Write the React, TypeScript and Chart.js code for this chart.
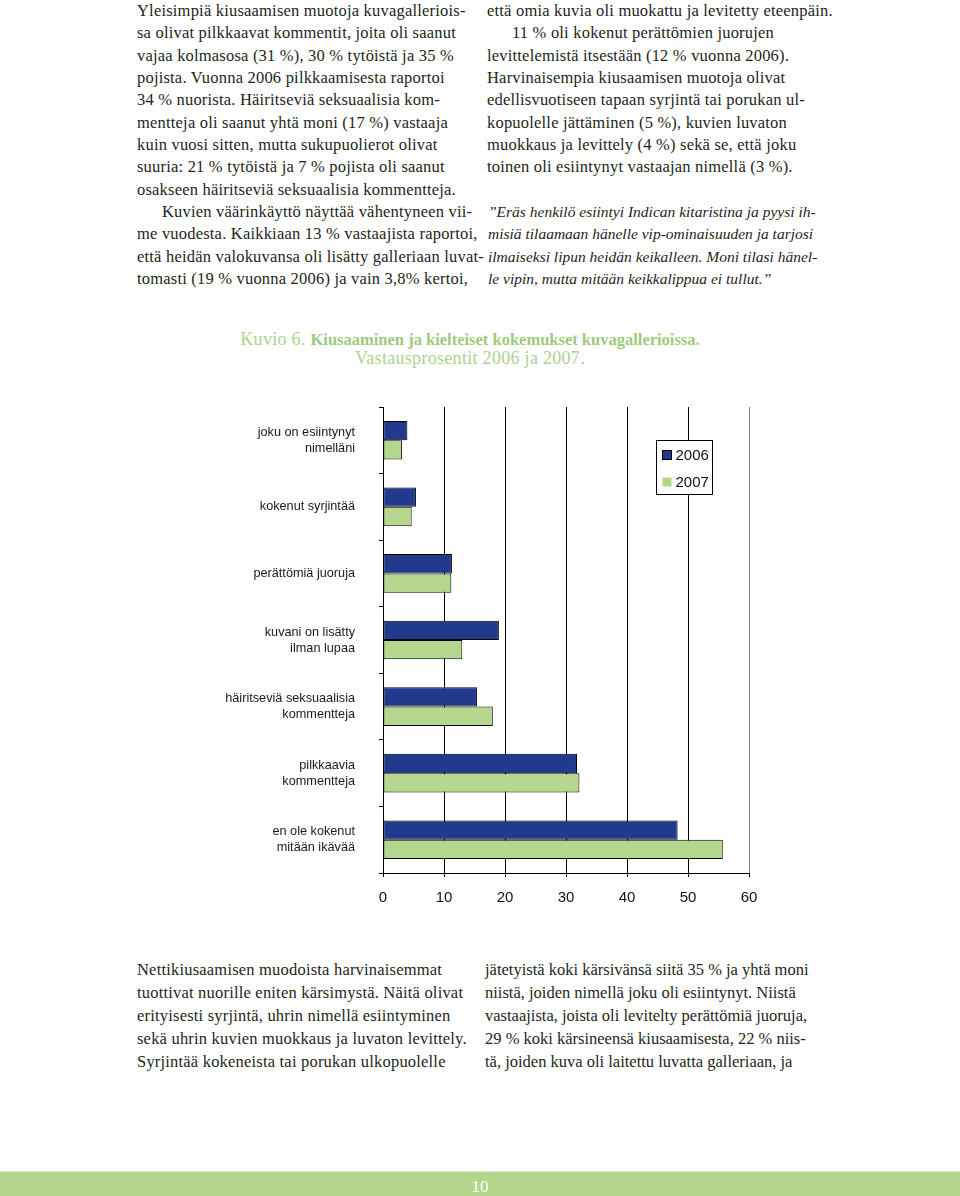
import React, { useEffect, useRef } from "react";
import { Chart, registerables } from "chart.js";

Chart.register(...registerables);

if (typeof document !== "undefined") {
  document.body.style.margin = "0";
}

// ---- data ----
const categories: string[][] = [
  ["joku on esiintynyt", "nimelläni"],
  ["kokenut syrjintää"],
  ["perättömiä juoruja"],
  ["kuvani on lisätty", "ilman lupaa"],
  ["häiritseviä seksuaalisia", "kommentteja"],
  ["pilkkaavia", "kommentteja"],
  ["en ole kokenut", "mitään ikävää"],
];
const seriesLabels = ["2006", "2007"];
const values2006 = [4.0, 5.4, 11.3, 19.0, 15.4, 31.8, 48.3];
const values2007 = [3.1, 4.7, 11.2, 13.0, 18.0, 32.2, 55.7];
const axisMin = 0;
const axisMax = 60;
const axisStep = 10;

const leftTop = [
  "Yleisimpiä kiusaamisen muotoja kuvagalleriois-",
  "sa olivat pilkkaavat kommentit, joita oli saanut",
  "vajaa kolmasosa (31 %), 30 % tytöistä ja 35 %",
  "pojista. Vuonna 2006 pilkkaamisesta raportoi",
  "34 % nuorista. Häiritseviä seksuaalisia kom-",
  "mentteja oli saanut yhtä moni (17 %) vastaaja",
  "kuin vuosi sitten, mutta sukupuolierot olivat",
  "suuria: 21 % tytöistä ja 7 % pojista oli saanut",
  "osakseen häiritseviä seksuaalisia kommentteja.",
  "\u00a0Kuvien väärinkäyttö näyttää vähentyneen vii-",
  "me vuodesta. Kaikkiaan 13 % vastaajista raportoi,",
  "että heidän valokuvansa oli lisätty galleriaan luvat-",
  "tomasti (19 % vuonna 2006) ja vain 3,8% kertoi,",
];
const rightTop = [
  "että omia kuvia oli muokattu ja levitetty eteenpäin.",
  "\u00a011 % oli kokenut perättömien juorujen",
  "levittelemistä itsestään (12 % vuonna 2006).",
  "Harvinaisempia kiusaamisen muotoja olivat",
  "edellisvuotiseen tapaan syrjintä tai porukan ul-",
  "kopuolelle jättäminen (5 %), kuvien luvaton",
  "muokkaus ja levittely (4 %) sekä se, että joku",
  "toinen oli esiintynyt vastaajan nimellä (3 %).",
];
const quoteLines = [
  "”Eräs henkilö esiintyi Indican kitaristina ja pyysi ih-",
  "misiä tilaamaan hänelle vip-ominaisuuden ja tarjosi",
  "ilmaiseksi lipun heidän keikalleen. Moni tilasi hänel-",
  "le vipin, mutta mitään keikkalippua ei tullut.”",
];
const leftBottom = [
  "Nettikiusaamisen muodoista harvinaisemmat",
  "tuottivat nuorille eniten kärsimystä. Näitä olivat",
  "erityisesti syrjintä, uhrin nimellä esiintyminen",
  "sekä uhrin kuvien muokkaus ja luvaton levittely.",
  "Syrjintää kokeneista tai porukan ulkopuolelle",
];
const rightBottom = [
  "jätetyistä koki kärsivänsä siitä 35 % ja yhtä moni",
  "niistä, joiden nimellä joku oli esiintynyt. Niistä",
  "vastaajista, joista oli levitelty perättömiä juoruja,",
  "29 % koki kärsineensä kiusaamisesta, 22 % niis-",
  "tä, joiden kuva oli laitettu luvatta galleriaan, ja",
];

const NAVY = "#223a8e";
const GREEN = "#b4d78d";
const TEXT = "#231f20";
const SERIF = "'Liberation Serif', 'DejaVu Serif', serif";
const SANS = "'Liberation Sans', Arial, sans-serif";

const boxLegend = {
  id: "boxLegend",
  afterDraw(chart: any) {
    const { ctx, chartArea } = chart;
    const x = Math.round(chartArea.left + 273) + 0.5;
    const y = Math.round(chartArea.top + 33) + 0.5;
    const w = 56;
    const h = 54;
    ctx.save();
    ctx.fillStyle = "#ffffff";
    ctx.fillRect(x, y, w, h);
    ctx.strokeStyle = "#000000";
    ctx.lineWidth = 1;
    ctx.strokeRect(x, y, w, h);
    ctx.font = `15px ${SANS}`;
    ctx.textBaseline = "middle";
    chart.data.datasets.forEach((ds: any, i: number) => {
      const cy = y + 14.5 + i * 27;
      ctx.fillStyle = ds.backgroundColor;
      ctx.fillRect(x + 6, cy - 4.5, 9, 9);
      if (i === 0) {
        ctx.strokeStyle = "#000";
        ctx.strokeRect(x + 6, cy - 4.5, 9, 9);
      }
      ctx.fillStyle = "#111";
      ctx.fillText(ds.label, x + 19, cy + 0.5);
    });
    ctx.restore();
  },
};

function BarChart() {
  const ref = useRef<HTMLCanvasElement | null>(null);
  useEffect(() => {
    if (!ref.current) return;
    const chart = new Chart(ref.current, {
      type: "bar",
      data: {
        labels: categories,
        datasets: [
          {
            label: seriesLabels[0],
            data: values2006,
            backgroundColor: NAVY,
            borderColor: "#000",
            borderWidth: 1,
            borderSkipped: false,
            categoryPercentage: 0.58,
            barPercentage: 1.0,
          },
          {
            label: seriesLabels[1],
            data: values2007,
            backgroundColor: GREEN,
            borderColor: "#000",
            borderWidth: 1,
            borderSkipped: false,
            categoryPercentage: 0.58,
            barPercentage: 1.0,
          },
        ],
      },
      options: {
        indexAxis: "y",
        responsive: false,
        animation: false,
        devicePixelRatio: 1,
        layout: { padding: { top: 12, right: 41, left: 0, bottom: 0 } },
        plugins: { legend: { display: false }, tooltip: { enabled: false }, title: { display: false } },
        scales: {
          x: {
            min: axisMin,
            max: axisMax,
            ticks: {
              stepSize: axisStep,
              padding: 12,
              color: "#111",
              font: { family: SANS, size: 15 },
            },
            grid: {
              color: (c: any) => (c.tick && c.tick.value === axisMax ? "#8a8a8a" : "#000"),
              lineWidth: 1,
              drawTicks: true,
              tickLength: 4,
              tickColor: "#000",
            },
            border: { display: true, color: "#000", width: 1 },
            afterFit(scale: any) {
              scale.height = 47;
              scale.paddingLeft = 0;
              scale.paddingRight = 0;
            },
          },
          y: {
            ticks: {
              padding: 24,
              color: "#1a1a1a",
              font: { family: SANS, size: 12.7, lineHeight: "16px" },
            },
            grid: {
              drawOnChartArea: false,
              drawTicks: true,
              tickLength: 4,
              tickColor: "#000",
              offset: true,
            },
            border: { display: true, color: "#000", width: 1 },
            afterFit(scale: any) {
              scale.width = 233;
              scale.paddingTop = 0;
              scale.paddingBottom = 0;
            },
          },
        },
      },
      plugins: [boxLegend],
    } as any);
    return () => chart.destroy();
  }, []);
  return <canvas ref={ref} width={640} height={525} style={{ position: "absolute", left: 150, top: 395, width: 640, height: 525 }} />;
}

function TextBlock({ lines, left, top, lh, italic, size, ls }: any) {
  return (
    <div
      style={{
        position: "absolute",
        left,
        top,
        fontFamily: SERIF,
        fontSize: size ?? 16.5,
        letterSpacing: `${ls ?? 0.2}px`,
        lineHeight: `${lh}px`,
        color: TEXT,
        fontStyle: italic ? "italic" : "normal",
        whiteSpace: "nowrap",
      }}
    >
      {lines.map((l: string, i: number) => {
        const indent = l.startsWith("\u00a0");
        return (
          <div key={i} style={{ paddingLeft: indent ? 25 : 0 }}>
            {indent ? l.slice(1) : l}
          </div>
        );
      })}
    </div>
  );
}

export default function App() {
  useEffect(() => {
    document.body.style.margin = "0";
  }, []);
  return (
    <div style={{ position: "relative", width: 960, height: 1196, overflow: "hidden", background: "#fff" }}>
      <TextBlock lines={leftTop} left={137} top={0} lh={22.35} />
      <TextBlock lines={rightTop} left={487} top={0} lh={22.35} />
      <TextBlock lines={quoteLines} left={488} top={200.5} lh={22.6} italic size={15.5} ls={0} />
      <TextBlock lines={leftBottom} left={137} top={958} lh={23} />
      <TextBlock lines={rightBottom} left={485} top={958} lh={23} ls={0} />

      <div
        style={{
          position: "absolute",
          left: 0,
          width: 940,
          top: 330,
          textAlign: "center",
          fontFamily: SERIF,
          fontSize: 18,
          letterSpacing: "0.3px",
          lineHeight: "18px",
          color: "#add28f",
        }}
      >
        <div>
          Kuvio 6. <span style={{ fontWeight: "bold", color: "#9ccb7c", fontSize: 16.5, letterSpacing: "0px" }}>Kiusaaminen ja kielteiset kokemukset kuvagallerioissa.</span>
        </div>
        <div>Vastausprosentit 2006 ja 2007.</div>
      </div>

      <BarChart />

      <div style={{ position: "absolute", left: 0, top: 1171, width: 960, height: 1, background: "#d9e9c8" }} />
      <div
        style={{
          position: "absolute",
          left: 0,
          top: 1172,
          width: 960,
          height: 24,
          background: "#b4d68c",
          color: "#ffffff",
          fontFamily: SERIF,
          fontSize: 17,
          lineHeight: "30px",
          textAlign: "center",
        }}
      >
        10
      </div>
    </div>
  );
}
